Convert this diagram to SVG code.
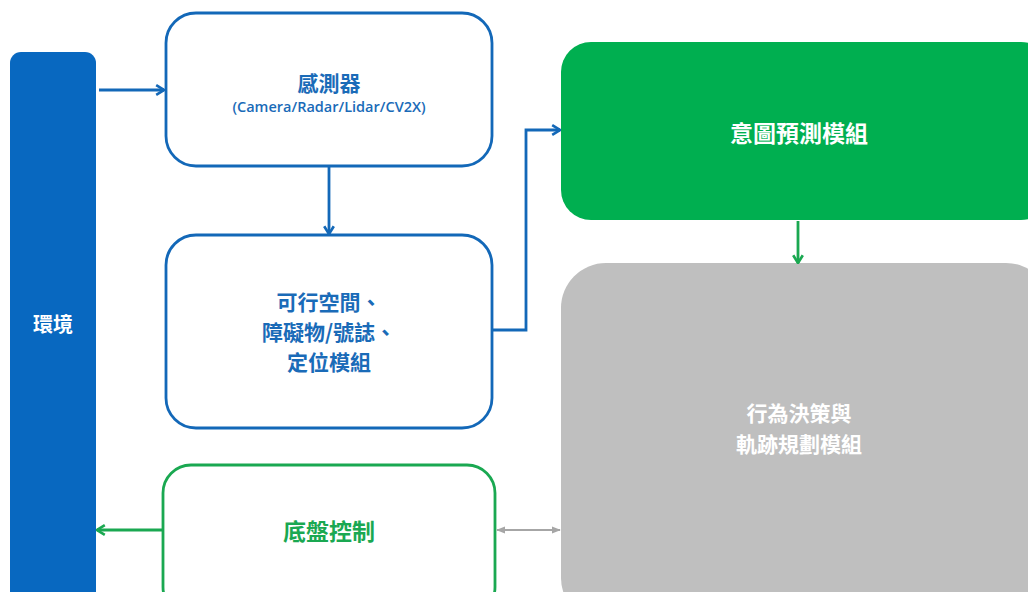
<svg xmlns="http://www.w3.org/2000/svg" width="1028" height="592" viewBox="0 0 1028 592">
<defs>
<style>
text{font-family:"Noto Sans CJK TC","Noto Sans",sans-serif;font-weight:bold;text-anchor:middle;dominant-baseline:central}
.blue{fill:#1A6BB8}
.white{fill:#FFFFFF}
.green{fill:#1AA851}
.ob{fill:#FFFFFF;stroke:#1368B8;stroke-width:2.8}
.og{fill:#FFFFFF;stroke:#1AA851;stroke-width:2.8}
.cb{fill:none;stroke:#1368B8;stroke-width:2.8}
.cg{fill:none;stroke:#1AA851;stroke-width:2.8}
.cy{fill:none;stroke:#A6A6A6;stroke-width:2.2}
</style>
<marker id="ab" viewBox="0 0 10 10" refX="9" refY="5" markerWidth="12" markerHeight="12" orient="auto" markerUnits="userSpaceOnUse"><path d="M2.5,1 L9,5 L2.5,9" fill="none" stroke="#1368B8" stroke-width="2.2"/></marker>
<marker id="ag" viewBox="0 0 10 10" refX="9" refY="5" markerWidth="12" markerHeight="12" orient="auto" markerUnits="userSpaceOnUse"><path d="M2.5,1 L9,5 L2.5,9" fill="none" stroke="#1AA851" stroke-width="2.2"/></marker>
<marker id="ay" viewBox="0 0 10 10" refX="9" refY="5" markerWidth="9" markerHeight="9" orient="auto-start-reverse" markerUnits="userSpaceOnUse"><path d="M0,1 L10,5 L0,9 Z" fill="#A6A6A6"/></marker>
</defs>
<rect width="1028" height="592" fill="#FFFFFF"/>
<g id="env">
<rect x="10" y="52" width="86" height="560" rx="11" fill="#0868C0"/>
<text x="53" y="323" font-size="20" class="white">環境</text>
</g>
<g id="sensor">
<rect x="166" y="13" width="326" height="153" rx="30" class="ob"/>
<text x="329" y="82" font-size="21" class="blue">感測器</text>
<text x="329" y="106" font-size="14.5" class="blue" style="font-family:'Open Sans','Noto Sans',sans-serif;font-weight:600">(Camera/Radar/Lidar/CV2X)</text>
</g>
<g id="space">
<rect x="166" y="235" width="326" height="193" rx="30" class="ob"/>
<text x="329" y="301" font-size="21" class="blue">可行空間、</text>
<text x="329" y="331" font-size="21" class="blue">障礙物/號誌、</text>
<text x="329" y="361" font-size="21" class="blue"> 定位模組</text>
</g>
<g id="intent">
<rect x="561" y="42" width="490" height="178" rx="30" fill="#00AF50"/>
<text x="799" y="132" font-size="23" class="white">意圖預測模組</text>
</g>
<g id="plan">
<rect x="561" y="263" width="490" height="360" rx="45" fill="#BFBFBF"/>
<text x="799" y="412" font-size="21" class="white">行為決策與</text>
<text x="799" y="443" font-size="21" class="white">軌跡規劃模組</text>
</g>
<g id="chassis">
<rect x="163" y="465" width="332" height="150" rx="28" class="og"/>
<text x="329" y="530" font-size="23" class="green">底盤控制</text>
</g>
<g id="connectors">
<path d="M99,90 H164" class="cb" marker-end="url(#ab)"/>
<path d="M329,167 V234" class="cb" marker-end="url(#ab)"/>
<path d="M493,330 H526 V130 H560" class="cb" marker-end="url(#ab)"/>
<path d="M798,221 V263" class="cg" marker-end="url(#ag)"/>
<path d="M162,530 H97" class="cg" marker-end="url(#ag)"/>
<path d="M497,530 H560" class="cy" marker-start="url(#ay)" marker-end="url(#ay)"/>
</g>
</svg>
